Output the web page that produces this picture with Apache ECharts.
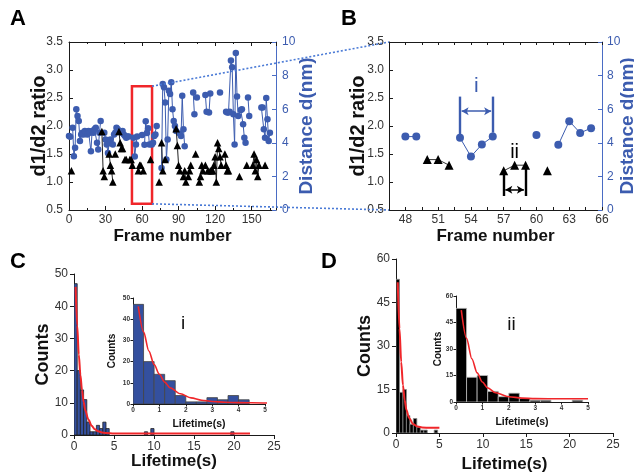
<!DOCTYPE html>
<html><head><meta charset="utf-8">
<script src="https://cdn.jsdelivr.net/npm/echarts@6/dist/echarts.min.js"></script>
<style>html,body{margin:0;padding:0;background:#fff}#c{width:634px;height:473px}</style>
</head><body><div id="c"></div>
<script>
// ---------- DATA ----------
// Panel A: value per frame (index = frame number), null = no point in that state
const distance = [
  4.4, 4.36, null, 4.9, 3.2, 3.7, 6.0, 5.6, 5.3, 4.1,
  4.5, 4.6, 4.5, 4.7, 4.6, 4.5, 4.7, 4.6, 3.5, 4.7,
  4.6, 4.8, 4.9, 4.0, 3.6, 4.6, 5.3, null, null, 4.6,
  4.2, 3.9, 3.4, 4.0, 4.2, null, 3.9, 4.5, 4.6, 4.9,
  4.8, null, null, 4.6, 4.7, 4.5, 4.4, 4.3, 4.37, 4.37,
  null, null, null, 4.3, 3.18, 3.9, 4.37, null, null, null,
  4.47, null, 3.88, 5.29, 4.59, 4.87, 3.9, null, 3.9, 4.0,
  4.4, 4.5, 5.0, null, null, null, 2.5, 7.5, 7.3, 6.4,
  3.0, 4.2, 7.1, 6.9, 7.6, 6.0, 5.3, 5.0, 4.7, null,
  null, 4.55, 4.4, 6.8, 4.8, 3.8, null, null, null, null,
  null, null, 7.0, 5.7, null, 6.7, null, null, null, null,
  null, null, 6.85, 5.85, null, 5.8, 6.94, null, null, null,
  null, null, null, null, 7.0, null, null, null, null, 5.85,
  5.8, 5.8, 5.85, 8.9, 8.5, 5.7, 3.9, 9.35, 6.75, 5.6,
  null, 5.95, 6.0, 5.1, 4.3, 4.0, null, 6.7, 5.6, null,
  null, null, null, null, null, null, null, null, 6.1, 6.1,
  4.8, 4.3, 6.66, 5.4, 4.1, 4.6
];
const ratio = [
  null, null, 1.2, null, null, null, null, null, null, null,
  null, null, null, null, null, null, null, null, null, null,
  null, null, null, null, null, null, null, 1.9, 1.2, 1.1,
  null, null, null, 1.5, 1.3, 1.2, 1.0, null, 1.5, null,
  null, 1.9, 1.7, 1.6, 1.6, null, 1.4, 1.4, null, null,
  1.4, 1.4, 1.3, null, null, null, null, 1.2, 1.3, 1.3,
  null, 1.2, null, null, null, null, null, 1.4, null, null,
  null, null, null, null, 1.0, null, 1.7, 1.2, null, 1.4,
  null, null, null, null, null, null, null, null, 1.95, 1.65,
  1.3, 1.2, null, null, 1.1, 1.2, 1.0, null, 1.1, 1.2,
  1.3, null, null, null, 1.5, null, null, 1.0, 1.1, 1.3,
  1.2, null, 1.3, null, 1.2, null, 1.2, 1.2, 1.2, 1.3,
  1.45, 1.0, 1.7, 1.6, 1.45, 1.3, null, null, 1.5, 1.3,
  1.2, 1.2, null, null, null, null, null, null, null, null,
  1.1, null, null, null, null, null, 1.3, null, null, null,
  null, 1.3, 1.5, 1.2, 1.4, 1.1, 1.3, null, null, null,
  null, 1.3, null, null, null, null
];
// Panel B shows frames 48..65 of the same trace
const bFirstFrame = 48, bLastFrame = 65;
// zoom box in panel A (frames, ratio)
const zoomBoxFrames = [51.7, 68.2];
const zoomBoxRatio = [0.61, 2.71];

// Panel C histogram (bin left edges, counts) and fitted curve
const binWidth = 0.4;
const cBinLeft = [0, 0.4, 0.8, 1.2, 1.6, 2.0, 2.4, 2.8, 3.2, 3.6, 4.0, 8.8, 9.6, 19.6];
const cCounts  = [47, 20, 14, 11, 4, 1, 1, 3, 2, 4, 2, 1, 2, 1];
const cFitX = [0.2, 0.4, 0.6, 0.8, 1.0, 1.2, 1.4, 1.8, 2.2, 2.6, 3.0, 3.5, 4.0, 5.0, 22];
const cFitY = [46, 34, 25, 18.6, 14, 10.3, 7.7, 4.8, 2.9, 1.8, 1.2, 0.8, 0.65, 0.5, 0.5];
// Panel D
const dBinLeft = [0, 0.4, 0.8, 1.2, 1.6, 2.0, 2.4, 2.8, 3.2, 4.4];
const dCounts  = [53, 14, 15, 6, 3, 5, 2, 1, 1, 1];
const dFitX = [0.2, 0.4, 0.6, 0.8, 1.0, 1.2, 1.5, 2.0, 2.5, 3.0, 4.0, 5.0];
const dFitY = [52, 36, 24.5, 16.5, 11.3, 8, 5.2, 3.0, 2.2, 1.9, 1.8, 1.8];

// ---------- STYLE ----------
const FONT = 'Liberation Sans, Arial, sans-serif';
const BLUE = '#3c5caf';
const BLUE_AX = '#4a6cc4';
const RED = '#f0262a';
const INK = '#1a1a1a';

function pairs(arr, first, last) {
  const out = [];
  for (let f = first; f <= last; f++) out.push([f, arr[f] == null ? '-' : arr[f]]);
  return out;
}
function xyPairs(xs, ys) { return xs.map((x, i) => [x, ys[i]]); }
function bins(left, counts, maxX) {
  return left.map((l, i) => [l, l + binWidth, counts[i]]).filter(b => b[1] <= maxX + 1e-9);
}

function histRender(fill, stroke) {
  return function (params, api) {
    const p0 = api.coord([api.value(0), api.value(2)]);
    const p1 = api.coord([api.value(1), 0]);
    return { type: 'rect',
      shape: { x: p0[0], y: p0[1], width: p1[0] - p0[0], height: p1[1] - p0[1] },
      style: { fill: fill, stroke: stroke, lineWidth: 0.8 } };
  };
}

function axisBase(color, opts) {
  const o = {
    type: 'value',
    axisLine: { show: true, onZero: false, lineStyle: { color: color, width: 1 } },
    axisTick: { show: true, inside: true, length: 4, lineStyle: { color: color } },
    splitLine: { show: false },
    axisLabel: { color: color === INK ? '#333' : color, fontSize: 12, fontFamily: FONT, margin: 5 },
    nameLocation: 'middle',
    nameMoveOverlap: false,
    nameTextStyle: { fontFamily: FONT, fontWeight: 'bold', fontSize: 17, color: color === INK ? '#111' : color }
  };
  for (const k in opts) {
    if (o[k] && typeof o[k] === 'object' && typeof opts[k] === 'object' && !Array.isArray(opts[k])) Object.assign(o[k], opts[k]);
    else o[k] = opts[k];
  }
  return o;
}

const chart = echarts.init(document.getElementById('c'));
const option = {
  animation: false,
  backgroundColor: '#fff',
  title: [
    { text: 'A', left: 10, top: 8 }, { text: 'B', left: 341, top: 8 },
    { text: 'C', left: 10, top: 251 }, { text: 'D', left: 321, top: 251 }
  ].map(t => Object.assign(t, { padding: 0, textStyle: { fontFamily: FONT, fontWeight: 'bold', fontSize: 22, color: '#000' } })),
  grid: [
    { left: 69, top: 42, width: 207, height: 168 },
    { left: 389, top: 42, width: 213, height: 168 },
    { left: 74, top: 274, width: 200, height: 161 },
    { left: 133, top: 298, width: 132, height: 106 },
    { left: 396, top: 259, width: 217, height: 174 },
    { left: 456, top: 296, width: 132, height: 106 }
  ].map(g => Object.assign(g, { containLabel: false, outerBoundsMode: 'none' })),
  xAxis: [
    axisBase(INK, { gridIndex: 0, min: 0, max: 170, interval: 30, name: 'Frame number', nameGap: 18,
      minorTick: { show: true, splitNumber: 2, length: 2, lineStyle: { color: INK } },
      axisLabel: { formatter: v => (v % 30 === 0 ? String(v) : ''), margin: 4 } }),
    axisBase(INK, { gridIndex: 0, position: 'top', min: 0, max: 170, interval: 30,
      minorTick: { show: true, splitNumber: 2, length: 2, lineStyle: { color: INK } },
      axisLabel: { show: false } }),
    axisBase(INK, { gridIndex: 1, min: 46.5, max: 66, interval: 1.5, name: 'Frame number', nameGap: 18,
      axisTick: { length: 3 },
      axisLabel: { formatter: v => (Math.abs(v / 3 - Math.round(v / 3)) < 1e-6 ? String(v) : ''), margin: 4 } }),
    axisBase(INK, { gridIndex: 1, position: 'top', min: 46.5, max: 66, interval: 1.5,
      axisTick: { length: 3 }, axisLabel: { show: false } }),
    axisBase(INK, { gridIndex: 2, min: 0, max: 25, interval: 5, name: 'Lifetime(s)', nameGap: 18,
      axisTick: { inside: false, length: 4 }, axisLabel: { fontSize: 12, margin: 6 } }),
    axisBase(INK, { gridIndex: 3, min: 0, max: 5, interval: 1, name: 'Lifetime(s)', nameGap: 15,
      axisTick: { inside: false, length: 2.5 }, axisLabel: { fontSize: 6.5, fontWeight: 'bold', margin: 3 },
      nameTextStyle: { fontSize: 10.5 } }),
    axisBase(INK, { gridIndex: 4, min: 0, max: 25, interval: 5, name: 'Lifetime(s)', nameGap: 23,
      axisTick: { inside: false, length: 4 }, axisLabel: { fontSize: 12, margin: 6 } }),
    axisBase(INK, { gridIndex: 5, min: 0, max: 5, interval: 1, name: 'Lifetime(s)', nameGap: 15,
      axisTick: { inside: false, length: 2.5 }, axisLabel: { fontSize: 6.5, fontWeight: 'bold', margin: 3 },
      nameTextStyle: { fontSize: 10.5 } })
  ],
  yAxis: [
    axisBase(INK, { gridIndex: 0, min: 0.5, max: 3.5, interval: 0.5, name: 'd1/d2 ratio', nameGap: 20,
      axisLabel: { formatter: v => v.toFixed(1), margin: 6 }, nameTextStyle: { fontSize: 20 } }),
    axisBase(BLUE_AX, { gridIndex: 0, position: 'right', min: 0, max: 10, interval: 2, name: 'Distance d(nm)', nameGap: 21,
      nameRotate: 90, axisLabel: { color: BLUE, margin: 6 }, nameTextStyle: { fontSize: 19, color: BLUE } }),
    axisBase(INK, { gridIndex: 1, min: 0.5, max: 3.5, interval: 0.5, name: 'd1/d2 ratio', nameGap: 21,
      axisLabel: { formatter: v => v.toFixed(1), margin: 5 }, nameTextStyle: { fontSize: 20 } }),
    axisBase(BLUE_AX, { gridIndex: 1, position: 'right', min: 0, max: 10, interval: 2, name: 'Distance d(nm)', nameGap: 16,
      nameRotate: 90, axisLabel: { color: BLUE, margin: 5 }, nameTextStyle: { fontSize: 19, color: BLUE } }),
    axisBase(INK, { gridIndex: 2, min: 0, max: 50, interval: 10, name: 'Counts', nameGap: 22,
      axisTick: { inside: false, length: 4 }, axisLabel: { fontSize: 12, margin: 6 }, nameTextStyle: { fontSize: 18 } }),
    axisBase(INK, { gridIndex: 3, min: 0, max: 50, interval: 10, name: 'Counts', nameGap: 16,
      axisTick: { inside: false, length: 2.5 }, axisLabel: { fontSize: 6.5, fontWeight: 'bold', margin: 3 },
      nameTextStyle: { fontSize: 10 } }),
    axisBase(INK, { gridIndex: 4, min: 0, max: 60, interval: 15, name: 'Counts', nameGap: 22,
      axisTick: { inside: false, length: 4 }, axisLabel: { fontSize: 12, margin: 6 }, nameTextStyle: { fontSize: 18 } }),
    axisBase(INK, { gridIndex: 5, min: 0, max: 60, interval: 15, name: 'Counts', nameGap: 13,
      axisTick: { inside: false, length: 2.5 }, axisLabel: { fontSize: 6.5, fontWeight: 'bold', margin: 3 },
      nameTextStyle: { fontSize: 10 } })
  ],
  series: [
    { type: 'line', xAxisIndex: 0, yAxisIndex: 1, data: pairs(distance, 0, distance.length - 1),
      symbol: 'circle', symbolSize: 6.5, itemStyle: { color: BLUE }, lineStyle: { color: BLUE, width: 1 }, z: 3 },
    { type: 'line', xAxisIndex: 0, yAxisIndex: 0, data: pairs(ratio, 0, ratio.length - 1),
      symbol: 'triangle', symbolSize: 7.5, itemStyle: { color: '#000' }, lineStyle: { color: '#222', width: 1 }, z: 4,
      markArea: { silent: true, itemStyle: { color: 'rgba(0,0,0,0)', borderColor: RED, borderWidth: 2.5 },
        data: [[{ coord: [zoomBoxFrames[0], zoomBoxRatio[0]] }, { coord: [zoomBoxFrames[1], zoomBoxRatio[1]] }]] } },
    { type: 'line', xAxisIndex: 2, yAxisIndex: 3, data: pairs(distance, bFirstFrame, bLastFrame),
      symbol: 'circle', symbolSize: 8, itemStyle: { color: BLUE }, lineStyle: { color: BLUE, width: 1 }, z: 3,
      markLine: { silent: true, label: { show: false }, lineStyle: { color: BLUE, type: 'solid', width: 2.4 },
        data: [
          [{ coord: [53, 6.75], symbol: 'none' }, { coord: [53, 4.4], symbol: 'none' }],
          [{ coord: [56, 6.75], symbol: 'none' }, { coord: [56, 4.6], symbol: 'none' }],
          [{ coord: [53.15, 5.88], symbol: 'arrow', symbolSize: [6, 7] }, { coord: [55.85, 5.88], symbol: 'arrow', symbolSize: [6, 7], lineStyle: { width: 1.5 } }]
        ] },
      markPoint: { silent: true, symbol: 'circle', symbolSize: 0,
        label: { show: true, position: 'inside', color: BLUE, fontFamily: FONT, fontSize: 21 },
        data: [{ coord: [54.5, 7.35], value: 'i' }] } },
    { type: 'line', xAxisIndex: 2, yAxisIndex: 2, data: pairs(ratio, bFirstFrame, bLastFrame),
      symbol: 'triangle', symbolSize: 9, itemStyle: { color: '#000' }, lineStyle: { color: '#333', width: 1 }, z: 4,
      markLine: { silent: true, label: { show: false }, lineStyle: { color: '#000', type: 'solid', width: 2.4 },
        data: [
          [{ coord: [57, 1.2], symbol: 'none' }, { coord: [57, 0.75], symbol: 'none' }],
          [{ coord: [59, 1.3], symbol: 'none' }, { coord: [59, 0.75], symbol: 'none' }],
          [{ coord: [57.15, 0.86], symbol: 'arrow', symbolSize: [6, 7] }, { coord: [58.85, 0.86], symbol: 'arrow', symbolSize: [6, 7], lineStyle: { width: 1.5 } }]
        ] },
      markPoint: { silent: true, symbol: 'circle', symbolSize: 0,
        label: { show: true, position: 'inside', color: '#000', fontFamily: FONT, fontSize: 20 },
        data: [{ coord: [58, 1.53], value: 'ii' }] } },
    { type: 'custom', xAxisIndex: 4, yAxisIndex: 4, clip: true, data: bins(cBinLeft, cCounts, 25), encode: { x: [0, 1], y: 2 },
      renderItem: histRender('#34509f', '#222') },
    { type: 'line', xAxisIndex: 4, yAxisIndex: 4, data: xyPairs(cFitX, cFitY), smooth: 0.3, smoothMonotone: 'x',
      showSymbol: false, lineStyle: { color: RED, width: 2 }, z: 5 },
    { type: 'custom', xAxisIndex: 5, yAxisIndex: 5, clip: true, data: bins(cBinLeft, cCounts, 5), encode: { x: [0, 1], y: 2 },
      renderItem: histRender('#34509f', '#444') },
    { type: 'line', xAxisIndex: 5, yAxisIndex: 5, data: xyPairs(cFitX, cFitY), smooth: 0.3, smoothMonotone: 'x',
      showSymbol: false, lineStyle: { color: RED, width: 1.6 }, z: 5,
      markPoint: { silent: true, symbol: 'circle', symbolSize: 0,
        label: { show: true, position: 'inside', color: '#111', fontFamily: FONT, fontSize: 19 },
        data: [{ coord: [1.9, 38], value: 'i' }] } },
    { type: 'custom', xAxisIndex: 6, yAxisIndex: 6, clip: true, data: bins(dBinLeft, dCounts, 25), encode: { x: [0, 1], y: 2 },
      renderItem: histRender('#000', '#888') },
    { type: 'line', xAxisIndex: 6, yAxisIndex: 6, data: xyPairs(dFitX, dFitY), smooth: 0.3, smoothMonotone: 'x',
      showSymbol: false, lineStyle: { color: RED, width: 2 }, z: 5 },
    { type: 'custom', xAxisIndex: 7, yAxisIndex: 7, clip: true, data: bins(dBinLeft, dCounts, 5), encode: { x: [0, 1], y: 2 },
      renderItem: histRender('#000', '#bbb') },
    { type: 'line', xAxisIndex: 7, yAxisIndex: 7, data: xyPairs(dFitX, dFitY), smooth: 0.3, smoothMonotone: 'x',
      showSymbol: false, lineStyle: { color: RED, width: 1.6 }, z: 5,
      markPoint: { silent: true, symbol: 'circle', symbolSize: 0,
        label: { show: true, position: 'inside', color: '#111', fontFamily: FONT, fontSize: 19 },
        data: [{ coord: [2.1, 44], value: 'ii' }] } }
  ]
};
chart.setOption(option);

// dotted zoom connectors from the box in A to the corners of B
const aTop = chart.convertToPixel({ xAxisIndex: 0, yAxisIndex: 0 }, [zoomBoxFrames[1], zoomBoxRatio[1]]);
const aBot = chart.convertToPixel({ xAxisIndex: 0, yAxisIndex: 0 }, [zoomBoxFrames[1], zoomBoxRatio[0]]);
const bTop = chart.convertToPixel({ xAxisIndex: 2, yAxisIndex: 2 }, [46.5, 3.5]);
const bBot = chart.convertToPixel({ xAxisIndex: 2, yAxisIndex: 2 }, [46.5, 0.5]);
const dotted = { stroke: '#4a7ad6', lineWidth: 1.6, lineDash: [2, 2] };
chart.setOption({ graphic: [
  { type: 'line', shape: { x1: aTop[0], y1: aTop[1], x2: bTop[0], y2: bTop[1] }, style: dotted, z: 10, silent: true },
  { type: 'line', shape: { x1: aBot[0], y1: aBot[1], x2: bBot[0], y2: bBot[1] }, style: dotted, z: 10, silent: true }
] });
</script></body></html>
